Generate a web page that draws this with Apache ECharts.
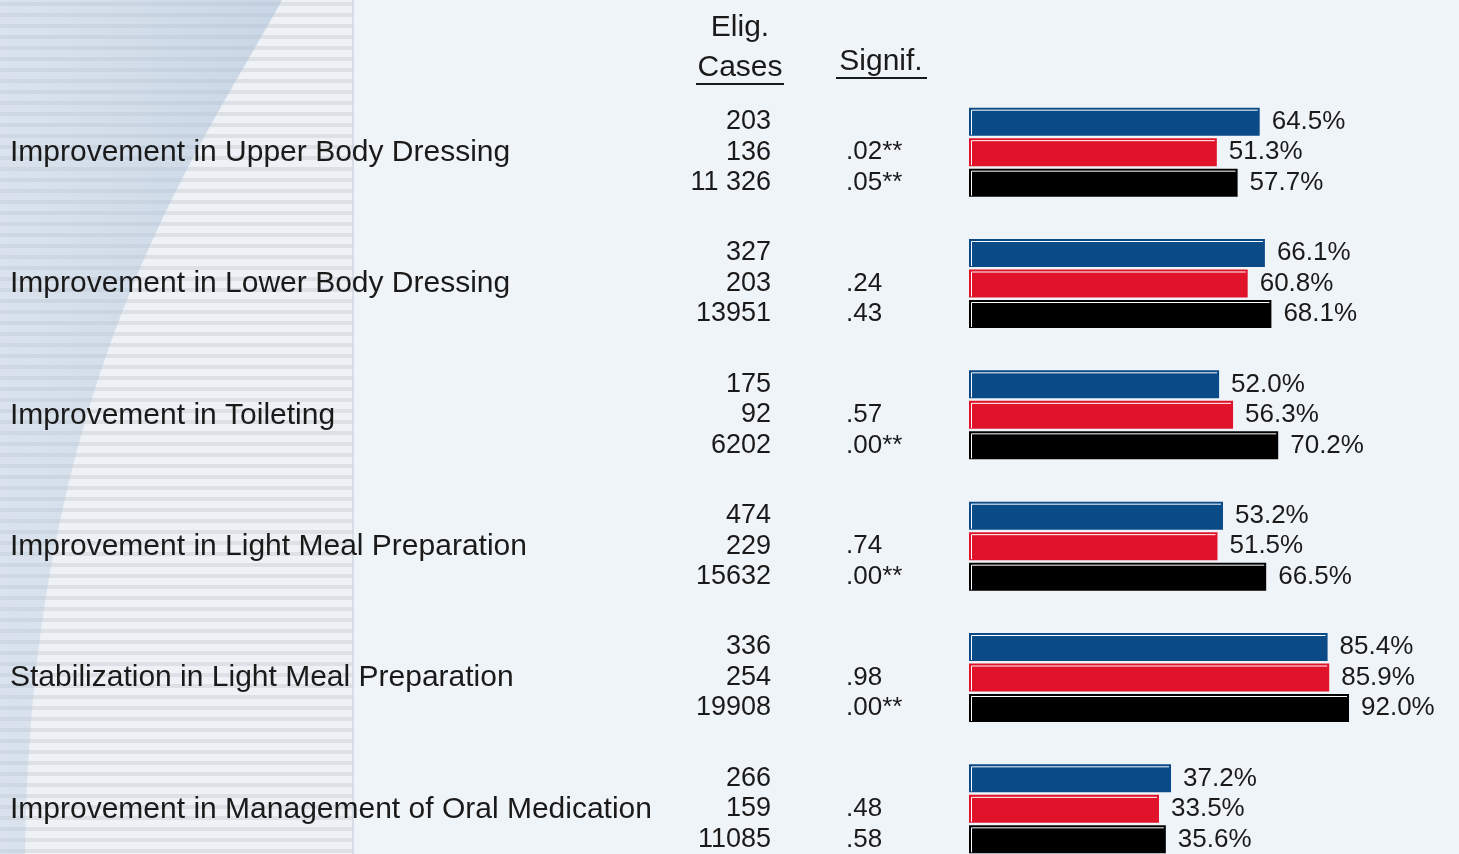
<!DOCTYPE html>
<html>
<head>
<meta charset="utf-8">
<script src="https://cdn.jsdelivr.net/npm/echarts@6/dist/echarts.min.js"></script>
<style>
  html, body { margin: 0; padding: 0; background: #eff4f9; }
  #chart { width: 1459px; height: 854px; }
</style>
</head>
<body>
<div id="chart"></div>
<script>
const categories = [
  'Improvement in Upper Body Dressing',
  'Improvement in Lower Body Dressing',
  'Improvement in Toileting',
  'Improvement in Light Meal Preparation',
  'Stabilization in Light Meal Preparation',
  'Improvement in Management of Oral Medication'
];
const blueValues = [64.5, 66.1, 52.0, 53.2, 85.4, 37.2];
const redValues = [51.3, 60.8, 56.3, 51.5, 85.9, 33.5];
const blackValues = [57.7, 68.1, 70.2, 66.5, 92.0, 35.6];

const blueCases = ['203', '327', '175', '474', '336', '266'];
const redCases = ['136', '203', '92', '229', '254', '159'];
const blackCases = ['11 326', '13951', '6202', '15632', '19908', '11085'];

const blueSignif = ['', '', '', '', '', ''];
const redSignif = ['.02**', '.24', '.57', '.74', '.98', '.48'];
const blackSignif = ['.05**', '.43', '.00**', '.00**', '.00**', '.58'];

// bars in the source are drawn from a baseline below zero
const barOrigin = -25;

const FONT = '"Liberation Sans", Arial, sans-serif';
const TEXT = '#1a1a1a';

const rows = [
  { name: 'Blue', color: '#0a4a87', values: blueValues, cases: blueCases, signif: blueSignif },
  { name: 'Red', color: '#e0132b', values: redValues, cases: redCases, signif: redSignif },
  { name: 'Black', color: '#000000', values: blackValues, cases: blackCases, signif: blackSignif }
];

const chart = echarts.init(document.getElementById('chart'));

// striped panel + swoosh on the left (decoration)
const bg = [];
bg.push({ type: 'rect', z: -10, shape: { x: 0, y: 0, width: 354, height: 854 }, style: { fill: '#eef1f5' } });
for (let y = 2; y < 854; y += 11) {
  bg.push({ type: 'rect', z: -9, shape: { x: 0, y: y, width: 353, height: 4 }, style: { fill: '#dde1e6' } });
}
const swoosh = [[0, 0]];
for (let i = 0; i <= 40; i++) {
  const t = i / 40, u = 1 - t;
  swoosh.push([
    u * u * u * 282 + 3 * u * u * t * 200 + 3 * u * t * t * 30 + t * t * t * 25,
    3 * u * u * t * 150 + 3 * u * t * t * 380 + t * t * t * 854
  ]);
}
swoosh.push([0, 854]);
bg.push({
  type: 'polygon', z: -8,
  shape: { points: swoosh },
  style: {
    fill: {
      type: 'linear', x: 0, y: 0, x2: 1, y2: 0,
      colorStops: [
        { offset: 0, color: 'rgba(180,200,222,0.35)' },
        { offset: 1, color: 'rgba(165,188,214,0.5)' }
      ]
    }
  }
});
bg.push({ type: 'rect', z: -8, shape: { x: 352, y: 0, width: 2, height: 854 }, style: { fill: 'rgba(200,210,222,0.6)' } });

const headers = [
  { type: 'text', x: 740, y: 28, style: { text: 'Elig.', font: '30px ' + FONT, fill: TEXT, align: 'center', verticalAlign: 'middle' } },
  { type: 'text', x: 740, y: 68, style: { text: 'Cases', font: '30px ' + FONT, fill: TEXT, align: 'center', verticalAlign: 'middle' } },
  { type: 'rect', shape: { x: 696, y: 83, width: 88, height: 2 }, style: { fill: TEXT } },
  { type: 'text', x: 881, y: 62, style: { text: 'Signif.', font: '30px ' + FONT, fill: TEXT, align: 'center', verticalAlign: 'middle' } },
  { type: 'rect', shape: { x: 836, y: 77, width: 91, height: 2 }, style: { fill: TEXT } }
];

function makeRender(row, s) {
  return function (params, api) {
    const cat = api.value(1);
    const val = api.value(0);
    const start = api.coord([barOrigin, cat]);
    const end = api.coord([val, cat]);
    const h = 28;
    const top = start[1] - 14.5 + (s - 1) * 30.5;
    const x = start[0];
    const w = end[0] - start[0];
    const mid = top + h / 2;
    const children = [
      { type: 'rect', shape: { x: x, y: top, width: w, height: h }, style: { fill: row.color } },
      {
        type: 'polyline',
        shape: { points: [[x + 2.5, top + h - 1], [x + 2.5, top + 2.5], [x + w - 2, top + 2.5]] },
        style: { stroke: '#ffffff', lineWidth: 1, fill: null }
      },
      { type: 'text', x: end[0] + 12, y: mid, style: { text: val.toFixed(1) + '%', font: '26px ' + FONT, fill: TEXT, align: 'left', verticalAlign: 'middle' } },
      { type: 'text', x: 771, y: mid, style: { text: row.cases[cat], font: '27px ' + FONT, fill: TEXT, align: 'right', verticalAlign: 'middle' } }
    ];
    if (row.signif[cat]) {
      children.push({ type: 'text', x: 846, y: mid, style: { text: row.signif[cat], font: '26px ' + FONT, fill: TEXT, align: 'left', verticalAlign: 'middle' } });
    }
    return { type: 'group', children: children };
  };
}

const option = {
  backgroundColor: '#eff4f9',
  animation: false,
  graphic: { elements: bg.concat(headers) },
  grid: { left: 969, width: 406, top: 87, height: 788, outerBoundsMode: 'none' },
  xAxis: {
    type: 'value',
    min: barOrigin,
    max: 100,
    show: false
  },
  yAxis: {
    type: 'category',
    inverse: true,
    data: categories,
    z: 10,
    axisLine: { show: false },
    axisTick: { show: false },
    splitLine: { show: false },
    axisLabel: {
      align: 'left',
      margin: 959,
      fontSize: 30,
      fontFamily: FONT,
      color: TEXT,
      padding: [0, 0, 6, 0]
    }
  },
  series: rows.map((row, s) => ({
    type: 'custom',
    name: row.name,
    renderItem: makeRender(row, s),
    encode: { x: 0, y: 1 },
    data: row.values.map((v, i) => [v, i])
  }))
};

chart.setOption(option);
</script>
</body>
</html>
